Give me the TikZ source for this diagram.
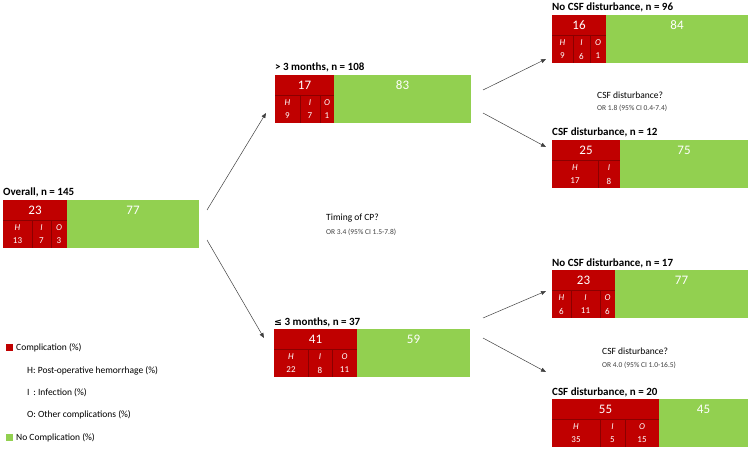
\documentclass[tikz,border=0pt]{standalone}
\usepackage{fontspec}
\setmainfont{Carlito}
\usetikzlibrary{arrows.meta}
\definecolor{cred}{HTML}{C00000}
\definecolor{cgreen}{HTML}{92D050}
\definecolor{cline}{HTML}{8B0000}
\tikzset{
  redfill/.style={fill=cred,draw=none},
  greenfill/.style={fill=cgreen,draw=none},
  divline/.style={draw=cline,line width=0.4pt},
  bignum/.style={text=white,font=\fontsize{13}{13}\selectfont,inner sep=0pt},
  subletter/.style={text=white,font=\fontsize{9}{9}\selectfont\itshape,inner sep=0pt},
  subnum/.style={text=white,font=\fontsize{9}{9}\selectfont,inner sep=0pt},
  title/.style={font=\fontsize{11}{11}\selectfont\bfseries,anchor=base west,inner sep=0pt},
  note/.style={font=\fontsize{9.5}{10}\selectfont,anchor=west,inner sep=0pt},
  small/.style={font=\fontsize{7.5}{8}\selectfont,anchor=west,inner sep=0pt,text=black!75},
  conn/.style={draw=black!75,line width=0.5pt,-{Triangle[length=5pt,width=4pt]}},
}
% \treebox{name}{x0}{ytop}{xred}{title}{red%}{green%}
\newcommand\treebox[7]{%
  \fill[greenfill] (#2,#3) rectangle (#2+196,#3+48);
  \fill[redfill] (#2,#3) rectangle (#4,#3+48);
  \draw[divline] (#2,#3+20) -- (#4,#3+20);
  \node[title] (#1t) at (#2,#3-4) {#5};
  \node[bignum] (#1r) at ({(#2+#4)/2},#3+10) {#6};
  \node[bignum] (#1g) at ({(#4+#2+196)/2},#3+10) {#7};
}
% \subcell{name}{xa}{xb}{ytop}{letter}{num}
\newcommand\subcell[6]{%
  \node[subletter] (#1l) at ({(#2+#3)/2},#4+28) {#5};
  \node[subnum] (#1n) at ({(#2+#3)/2},#4+41) {#6};
}
\newcommand\subdiv[2]{\draw[divline] (#1,#2+20) -- (#1,#2+48);}
\begin{document}
\begin{tikzpicture}[x=1pt,y=-1pt]
\useasboundingbox (0,0) rectangle (750,449);
% Overall
\treebox{ov}{3}{200}{67}{Overall, n = 145}{23}{77}
\subdiv{32}{200}\subdiv{51}{200}
\subcell{ovh}{3}{32}{200}{H}{13}\subcell{ovi}{32}{51}{200}{I}{7}\subcell{ovo}{51}{67}{200}{O}{3}
% > 3 months
\treebox{gt}{275}{75}{334}{> 3 months, n = 108}{17}{83}
\subdiv{300}{75}\subdiv{320}{75}
\subcell{gth}{275}{300}{75}{H}{9}\subcell{gti}{300}{320}{75}{I}{7}\subcell{gto}{320}{334}{75}{O}{1}
% <= 3 months
\treebox{le}{274}{329}{357}{{\fontspec{DejaVu Sans}\fontsize{9.5}{10}\selectfont ≤} 3 months, n = 37}{41}{59}
\subdiv{308}{329}\subdiv{332}{329}
\subcell{leh}{274}{308}{329}{H}{22}\subcell{lei}{308}{332}{329}{I}{8}\subcell{leo}{332}{357}{329}{O}{11}
% No CSF 96
\treebox{a}{552}{15}{606}{No CSF disturbance, n = 96}{16}{84}
\subdiv{573}{15}\subdiv{590}{15}
\subcell{ah}{552}{573}{15}{H}{9}\subcell{ai}{573}{590}{15}{I}{6}\subcell{ao}{590}{606}{15}{O}{1}
% CSF 12
\treebox{b}{552}{140}{620}{CSF disturbance, n = 12}{25}{75}
\subdiv{598}{140}
\subcell{bh}{552}{598}{140}{H}{17}\subcell{bi}{598}{620}{140}{I}{8}
% No CSF 17
\treebox{c}{552}{270}{615}{No CSF disturbance, n = 17}{23}{77}
\subdiv{571}{270}\subdiv{600}{270}
\subcell{ch}{552}{571}{270}{H}{6}\subcell{ci}{571}{600}{270}{I}{11}\subcell{co}{600}{615}{270}{O}{6}
% CSF 20
\treebox{d}{552}{399}{659}{CSF disturbance, n = 20}{55}{45}
\subdiv{600}{399}\subdiv{625}{399}
\subcell{dh}{552}{600}{399}{H}{35}\subcell{di}{600}{625}{399}{I}{5}\subcell{do}{625}{659}{399}{O}{15}
% question labels
\node[note] (q1) at (326,218) {Timing of CP?};
\node[small] (q1o) at (326,232) {OR 3.4 (95\% CI 1.5-7.8)};
\node[note] (q2) at (597,95) {CSF disturbance?};
\node[small] (q2o) at (597,108) {OR 1.8 (95\% CI 0.4-7.4)};
\node[note] (q3) at (602,351) {CSF disturbance?};
\node[small] (q3o) at (602,365) {OR 4.0 (95\% CI 1.0-16.5)};
% connector ends
\coordinate (s1) at (207,210); \coordinate (e1) at (266,113);
\coordinate (s2) at (207,240); \coordinate (e2) at (264,338);
\coordinate (s3) at (483,90); \coordinate (e3) at (546,59);
\coordinate (s4) at (483,113); \coordinate (e4) at (546,147);
\coordinate (s5) at (483,318); \coordinate (e5) at (546,291);
\coordinate (s6) at (483,338); \coordinate (e6) at (546,372);
\foreach \i in {1,...,6} \draw[conn] (s\i) -- (e\i);
% legend
\fill[cred] (6,344) rectangle (13,351); \coordinate (lr) at (6,344);
\node[note] (l1) at (16,348) {Complication (\%)};
\node[note] (l2) at (27,371) {H: Post-operative hemorrhage (\%)};
\node[note] (l3) at (27,393) {I\, : Infection (\%)};
\node[note] (l4) at (27,415) {O: Other complications (\%)};
\fill[cgreen] (6,434) rectangle (13,441);
\node[note] (l5) at (16,438) {No Complication (\%)};
\end{tikzpicture}
\end{document}
